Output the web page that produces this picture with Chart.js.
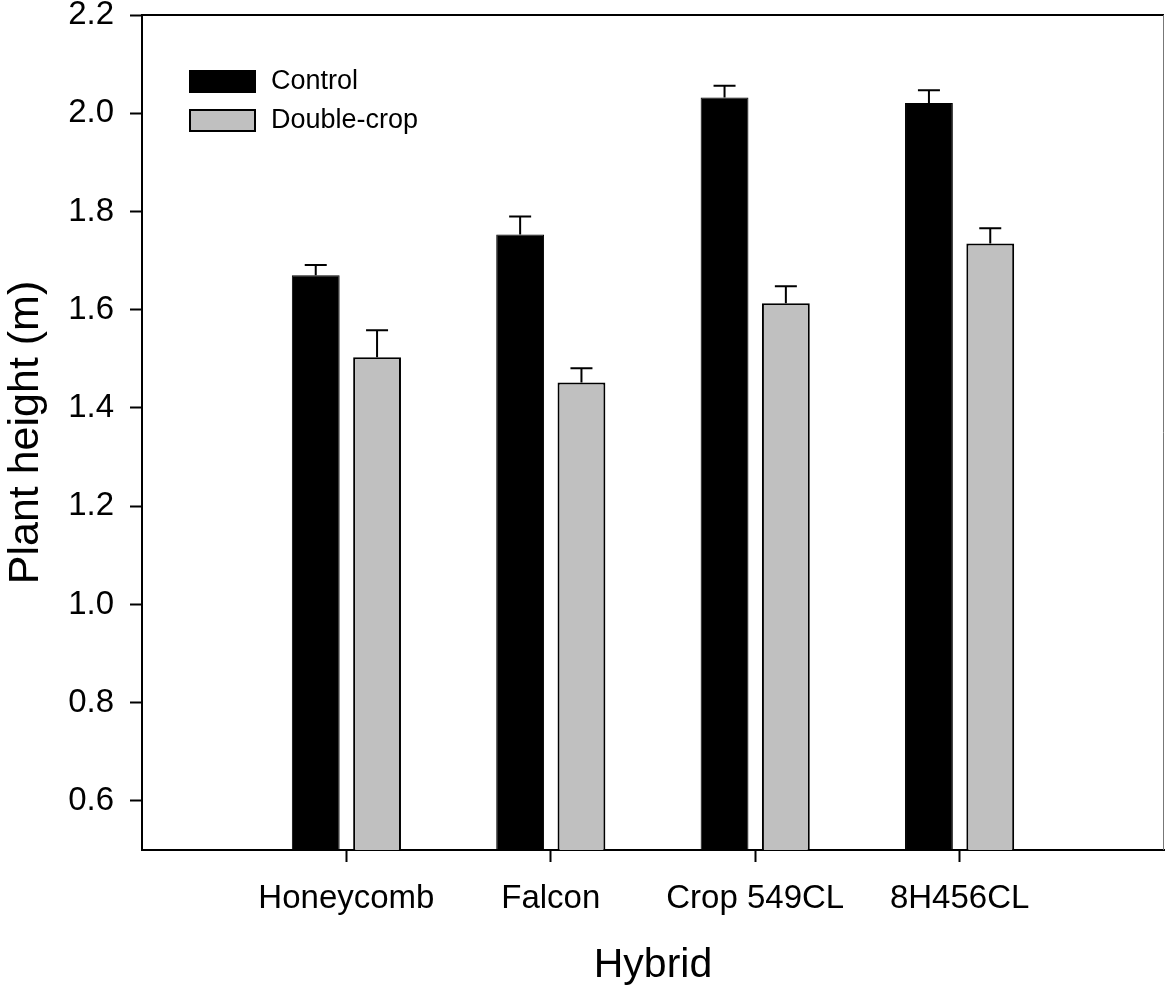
<!DOCTYPE html>
<html>
<head>
<meta charset="utf-8">
<script src="https://cdn.jsdelivr.net/npm/chart.js@4/dist/chart.umd.min.js"></script>
<style>
  html, body { margin: 0; padding: 0; background: #fff; }
  #wrap { width: 1165px; height: 990px; }
</style>
</head>
<body>
<div id="wrap"><canvas id="chart" width="1165" height="990"></canvas></div>
<script>
// Data
const hybrids = ['Honeycomb', 'Falcon', 'Crop 549CL', '8H456CL'];
const controlMeans = [1.670, 1.753, 2.032, 2.021];
const controlErr = [0.021, 0.037, 0.024, 0.026];
const doubleMeans = [1.503, 1.452, 1.613, 1.735];
const doubleErr = [0.055, 0.029, 0.035, 0.031];
const yTicks = [0.6, 0.8, 1.0, 1.2, 1.4, 1.6, 1.8, 2.0, 2.2];
const yMin = 0.5;
const yMax = 2.2;

// empty slots at both ends so the hybrids sit at 1..4 of a 0..5 axis
const pad = arr => [null, ...arr, null];
const labels = ['', ...hybrids, ''];

const FONT = "'Liberation Sans', Arial, sans-serif";

// Error bars (upper only, with a cap)
const errorBars = {
  id: 'errorBars',
  afterDatasetsDraw(chart) {
    const ctx = chart.ctx;
    const y = chart.scales.y;
    ctx.save();
    ctx.strokeStyle = '#000';
    ctx.lineWidth = 2;
    chart.data.datasets.forEach((ds, i) => {
      const meta = chart.getDatasetMeta(i);
      meta.data.forEach((bar, j) => {
        const v = ds.data[j];
        const e = ds.errors[j];
        if (v == null || e == null) return;
        const top = y.getPixelForValue(v);
        const cap = y.getPixelForValue(v + e);
        ctx.beginPath();
        ctx.moveTo(bar.x, top);
        ctx.lineTo(bar.x, cap);
        ctx.moveTo(bar.x - 11, cap);
        ctx.lineTo(bar.x + 11, cap);
        ctx.stroke();
      });
    });
    ctx.restore();
  }
};

// Top and right frame lines
const frame = {
  id: 'frame',
  afterDraw(chart) {
    const { ctx, chartArea: a } = chart;
    ctx.save();
    ctx.strokeStyle = '#000';
    ctx.lineWidth = 2;
    ctx.beginPath();
    ctx.moveTo(a.left, a.top);
    ctx.lineTo(a.right, a.top);
    ctx.stroke();
    ctx.strokeStyle = '#777';
    ctx.lineWidth = 1;
    ctx.beginPath();
    ctx.moveTo(a.right - 0.5, a.top);
    ctx.lineTo(a.right - 0.5, a.bottom);
    ctx.stroke();
    ctx.restore();
  }
};

// Legend inside the plot, top left
const boxLegend = {
  id: 'boxLegend',
  afterDraw(chart) {
    const { ctx, chartArea: a } = chart;
    ctx.save();
    ctx.font = '27px ' + FONT;
    ctx.textBaseline = 'middle';
    chart.data.datasets.forEach((ds, i) => {
      const x = a.left + 47;
      const y = a.top + 55 + i * 39;
      ctx.fillStyle = ds.backgroundColor;
      ctx.fillRect(x, y, 67, 23);
      ctx.strokeStyle = '#000';
      ctx.lineWidth = 2;
      ctx.strokeRect(x + 1, y + 1, 65, 21);
      ctx.fillStyle = '#000';
      ctx.fillText(ds.label, x + 82, y + 12);
    });
    ctx.restore();
  }
};

new Chart(document.getElementById('chart'), {
  type: 'bar',
  data: {
    labels: labels,
    datasets: [
      {
        label: 'Control',
        data: pad(controlMeans),
        errors: pad(controlErr),
        backgroundColor: '#000000',
        borderColor: '#000000',
        borderWidth: 1,
        base: yMin
      },
      {
        label: 'Double-crop',
        data: pad(doubleMeans),
        errors: pad(doubleErr),
        backgroundColor: '#c0c0c0',
        borderColor: '#000000',
        borderWidth: 2,
        base: yMin
      }
    ]
  },
  options: {
    responsive: false,
    animation: false,
    events: [],
    layout: { padding: { top: 15, right: 1, left: 0, bottom: 0 } },
    datasets: {
      bar: { categoryPercentage: 0.6, barPercentage: 0.78, borderSkipped: 'start' }
    },
    plugins: {
      legend: { display: false },
      tooltip: { enabled: false }
    },
    scales: {
      x: {
        offset: false,
        grid: {
          offset: false,
          drawOnChartArea: false,
          drawTicks: true,
          tickLength: 12,
          tickWidth: 2,
          tickColor: c => (c.index === 0 || c.index === labels.length - 1) ? 'rgba(0,0,0,0)' : '#000'
        },
        border: { display: true, color: '#000', width: 2 },
        ticks: {
          color: '#000',
          font: { family: FONT, size: 33 },
          padding: 17,
          maxRotation: 0,
          autoSkip: false
        },
        title: {
          display: true,
          text: 'Hybrid',
          color: '#000',
          font: { family: FONT, size: 41 },
          padding: { top: 0, bottom: 0 }
        },
        afterFit(scale) {
          scale.height = 140;
          scale.paddingLeft = 0;
          scale.paddingRight = 0;
        }
      },
      y: {
        min: yMin,
        max: yMax,
        afterBuildTicks(scale) { scale.ticks = yTicks.map(v => ({ value: v })); },
        grid: {
          drawOnChartArea: false,
          drawTicks: true,
          tickLength: 12,
          tickWidth: 2,
          tickColor: '#000'
        },
        border: { display: true, color: '#000', width: 2 },
        ticks: {
          color: '#000',
          font: { family: FONT, size: 33 },
          padding: 16,
          callback: v => v.toFixed(1)
        },
        title: {
          display: true,
          text: 'Plant height (m)',
          color: '#000',
          font: { family: FONT, size: 43 },
          padding: { top: 0, bottom: 0 }
        },
        afterFit(scale) {
          scale.width = 142;
          scale.paddingTop = 0;
          scale.paddingBottom = 0;
        }
      }
    }
  },
  plugins: [errorBars, frame, boxLegend]
});
</script>
</body>
</html>
